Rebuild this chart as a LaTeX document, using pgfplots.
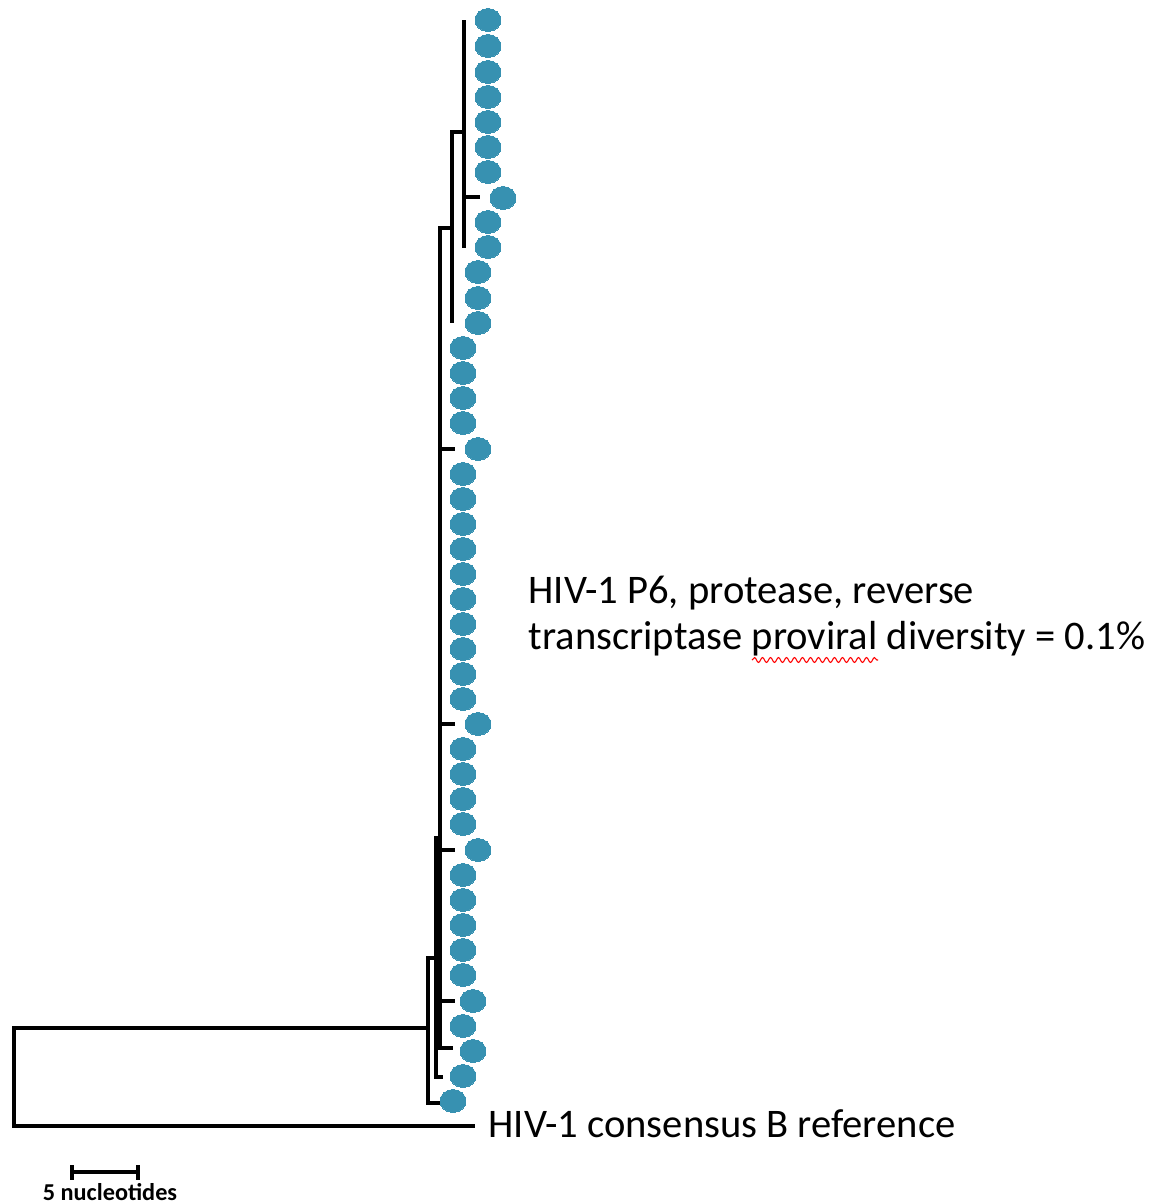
\documentclass[border=0pt]{standalone}
\usepackage{pgfplots}
\pgfplotsset{compat=1.18}
\usepackage{fontspec}
\setmainfont{Carlito}
\usetikzlibrary{decorations.pathmorphing}
\definecolor{leaf}{RGB}{55,145,177}
\begin{document}
\begin{tikzpicture}
\begin{axis}[scale only axis, width=11.55cm, height=12.03cm,
  xmin=0, xmax=1155, ymin=0, ymax=1203, y dir=reverse,
  axis lines=none, clip=false]
\path (rel axis cs:0,0) rectangle (rel axis cs:1,1);
% branches
\addplot[black, line width=1.1pt] coordinates {(428,1028) (14,1028) (14,1126) (475,1126)};
\addplot[black, line width=1.1pt] coordinates {(440,958) (428,958) (428,1103) (440,1103)};
\addplot[black, line width=1.1pt] coordinates {(440,838) (436,838) (436,1077) (443,1077)};
\addplot[black, line width=1.1pt] coordinates {(452,228) (440,228) (440,1048) (453,1048)};
\addplot[black, line width=1.1pt] coordinates {(440,449) (455,449)};
\addplot[black, line width=1.1pt] coordinates {(440,724) (455,724)};
\addplot[black, line width=1.1pt] coordinates {(440,850) (455,850)};
\addplot[black, line width=1.1pt] coordinates {(440,1001) (455,1001)};
\addplot[black, line width=1.1pt] coordinates {(464,132) (452,132) (452,323)};
\addplot[black, line width=1.1pt] coordinates {(464,20) (464,248)};
\addplot[black, line width=1.1pt] coordinates {(464,197) (480,197)};
% scale bar
\addplot[black, line width=1.4pt] coordinates {(72,1172) (138,1172)};
\addplot[black, line width=1.4pt] coordinates {(72,1165) (72,1180)};
\addplot[black, line width=1.4pt] coordinates {(138,1165) (138,1180)};
% leaves
\addplot[only marks, color=leaf, mark=*, mark size=1.15mm, mark options={xscale=1.13, fill=leaf, draw=leaf, line width=0pt}] coordinates {
(488,20) (488,46) (488,72) (488,97) (488,122) (488,147) (488,172) (503,198) (488,222) (488,247)
(478,272) (478,298) (478,323)
(463,348) (463,373) (463,398) (463,423) (478,449)
(463,474) (463,499) (463,524) (463,549) (463,574) (463,599) (463,624) (463,649) (463,674) (463,699)
(478,724)
(463,749) (463,774) (463,799) (463,824)
(478,850)
(463,875) (463,900) (463,925) (463,950) (463,975)
(473,1001) (463,1026) (473,1051) (463,1076) (453,1101)
};
% labels
\node[anchor=base west, inner sep=0pt, font=\fontsize{11.55}{13}\selectfont] at (axis cs:528,603) {HIV-1 P6, protease, reverse};
\node[anchor=base west, inner sep=0pt, font=\fontsize{11.55}{13}\selectfont] at (axis cs:528,649) {transcriptase proviral diversity = 0.1\%};
\draw[red, line width=0.3pt, decorate, decoration={snake, amplitude=0.25mm, segment length=0.8mm}] (axis cs:752,660) -- (axis cs:878,660);
\node[anchor=base west, inner sep=0pt, font=\fontsize{11.55}{13}\selectfont] at (axis cs:488,1137) {HIV-1 consensus B reference};
\node[anchor=base, inner sep=0pt, font=\fontsize{6.9}{8}\selectfont\bfseries] at (axis cs:110,1200) {5 nucleotides};
\end{axis}
\end{tikzpicture}
\end{document}
